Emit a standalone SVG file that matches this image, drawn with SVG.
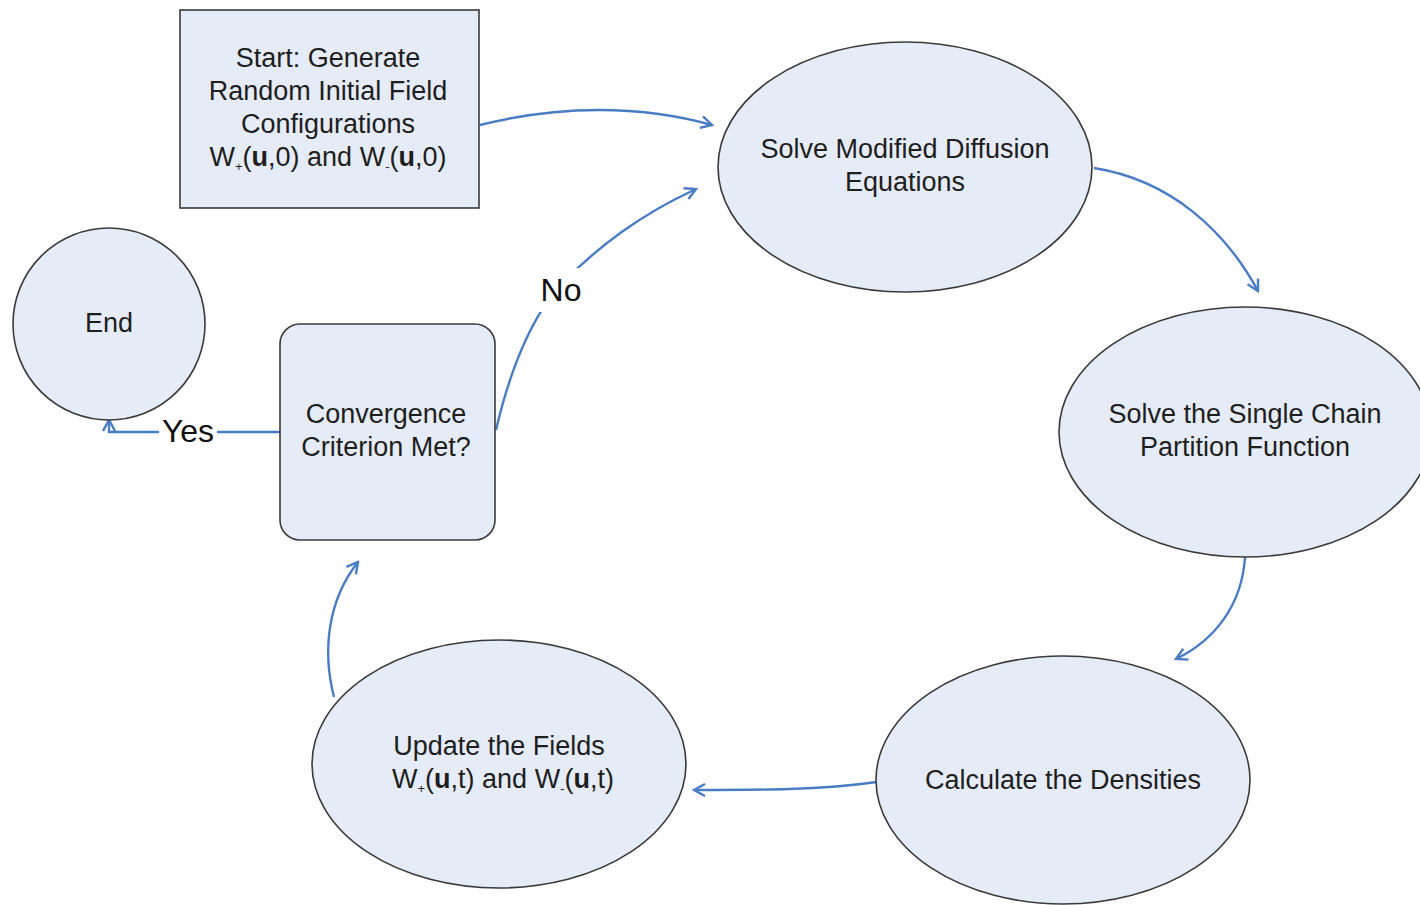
<svg xmlns="http://www.w3.org/2000/svg" width="1420" height="905" viewBox="0 0 1420 905">
<defs>
<style>
.shape{fill:#e5ecf7;stroke:#3a3a3a;stroke-width:1.6}
.t{font-family:"Liberation Sans",Arial,sans-serif;font-size:27px;fill:#1e1e1e;text-anchor:middle}
.lbl{font-family:"Liberation Sans",Arial,sans-serif;font-size:32px;fill:#111;text-anchor:middle}
.c{fill:none;stroke:#4a7cc4;stroke-width:2.4}
.sub{font-size:13px}
</style>
<marker id="ah" viewBox="0 0 14 14" refX="12" refY="7" markerWidth="14" markerHeight="14" markerUnits="userSpaceOnUse" orient="auto">
<path d="M1,1 L12,7 L1,13" fill="none" stroke="#4a7cc4" stroke-width="2.4"/>
</marker>
</defs>
<rect width="1420" height="905" fill="#ffffff"/>

<g id="connectors">
<path class="c" d="M480,125 C560,105 640,105 712,125" marker-end="url(#ah)"/>
<path class="c" d="M1094,168 C1170,180 1225,230 1258,291" marker-end="url(#ah)"/>
<path class="c" d="M1245,557 C1242,605 1215,640 1176,659" marker-end="url(#ah)"/>
<path class="c" d="M877,782 C820,790 760,790 694,790" marker-end="url(#ah)"/>
<path class="c" d="M334,697 C322,650 328,600 358,562" marker-end="url(#ah)"/>
<path class="c" d="M496,430 C510,370 530,320 560,285 C600,245 640,215 696,189" marker-end="url(#ah)"/>
<path class="c" d="M280,432 L109,432 L109,420" marker-end="url(#ah)"/>
<rect x="536" y="268" width="50" height="44" fill="#ffffff"/>
<text class="lbl" x="561" y="301">No</text>
<rect x="159" y="416" width="58" height="32" fill="#ffffff"/>
<text class="lbl" x="188" y="442">Yes</text>
</g>

<g id="start">
<rect class="shape" x="180" y="10" width="299" height="198"/>
<text class="t" x="328" y="67">Start: Generate</text>
<text class="t" x="328" y="100">Random Initial Field</text>
<text class="t" x="328" y="133">Configurations</text>
<text class="t" x="328" y="166">W<tspan class="sub" dy="5">+</tspan><tspan dy="-5">(</tspan><tspan font-weight="bold">u</tspan>,0) and W<tspan class="sub" dy="5">-</tspan><tspan dy="-5">(</tspan><tspan font-weight="bold">u</tspan>,0)</text>
</g>

<g id="solve-mde">
<ellipse class="shape" cx="905" cy="167" rx="187" ry="125"/>
<text class="t" x="905" y="158">Solve Modified Diffusion</text>
<text class="t" x="905" y="191">Equations</text>
</g>

<g id="single-chain">
<ellipse class="shape" cx="1245" cy="432" rx="186" ry="125"/>
<text class="t" x="1245" y="423">Solve the Single Chain</text>
<text class="t" x="1245" y="456">Partition Function</text>
</g>

<g id="densities">
<ellipse class="shape" cx="1063" cy="780" rx="187" ry="124"/>
<text class="t" x="1063" y="789">Calculate the Densities</text>
</g>

<g id="update">
<ellipse class="shape" cx="499" cy="764" rx="187" ry="124"/>
<text class="t" x="499" y="755">Update the Fields</text>
<text class="t" x="503" y="788">W<tspan class="sub" dy="5">+</tspan><tspan dy="-5">(</tspan><tspan font-weight="bold">u</tspan>,t) and W<tspan class="sub" dy="5">-</tspan><tspan dy="-5">(</tspan><tspan font-weight="bold">u</tspan>,t)</text>
</g>

<g id="convergence">
<rect class="shape" x="280" y="324" width="215" height="216" rx="20" ry="20"/>
<text class="t" x="386" y="423">Convergence</text>
<text class="t" x="386" y="456">Criterion Met?</text>
</g>

<g id="end">
<circle class="shape" cx="109" cy="324" r="96"/>
<text class="t" x="109" y="332">End</text>
</g>
</svg>
